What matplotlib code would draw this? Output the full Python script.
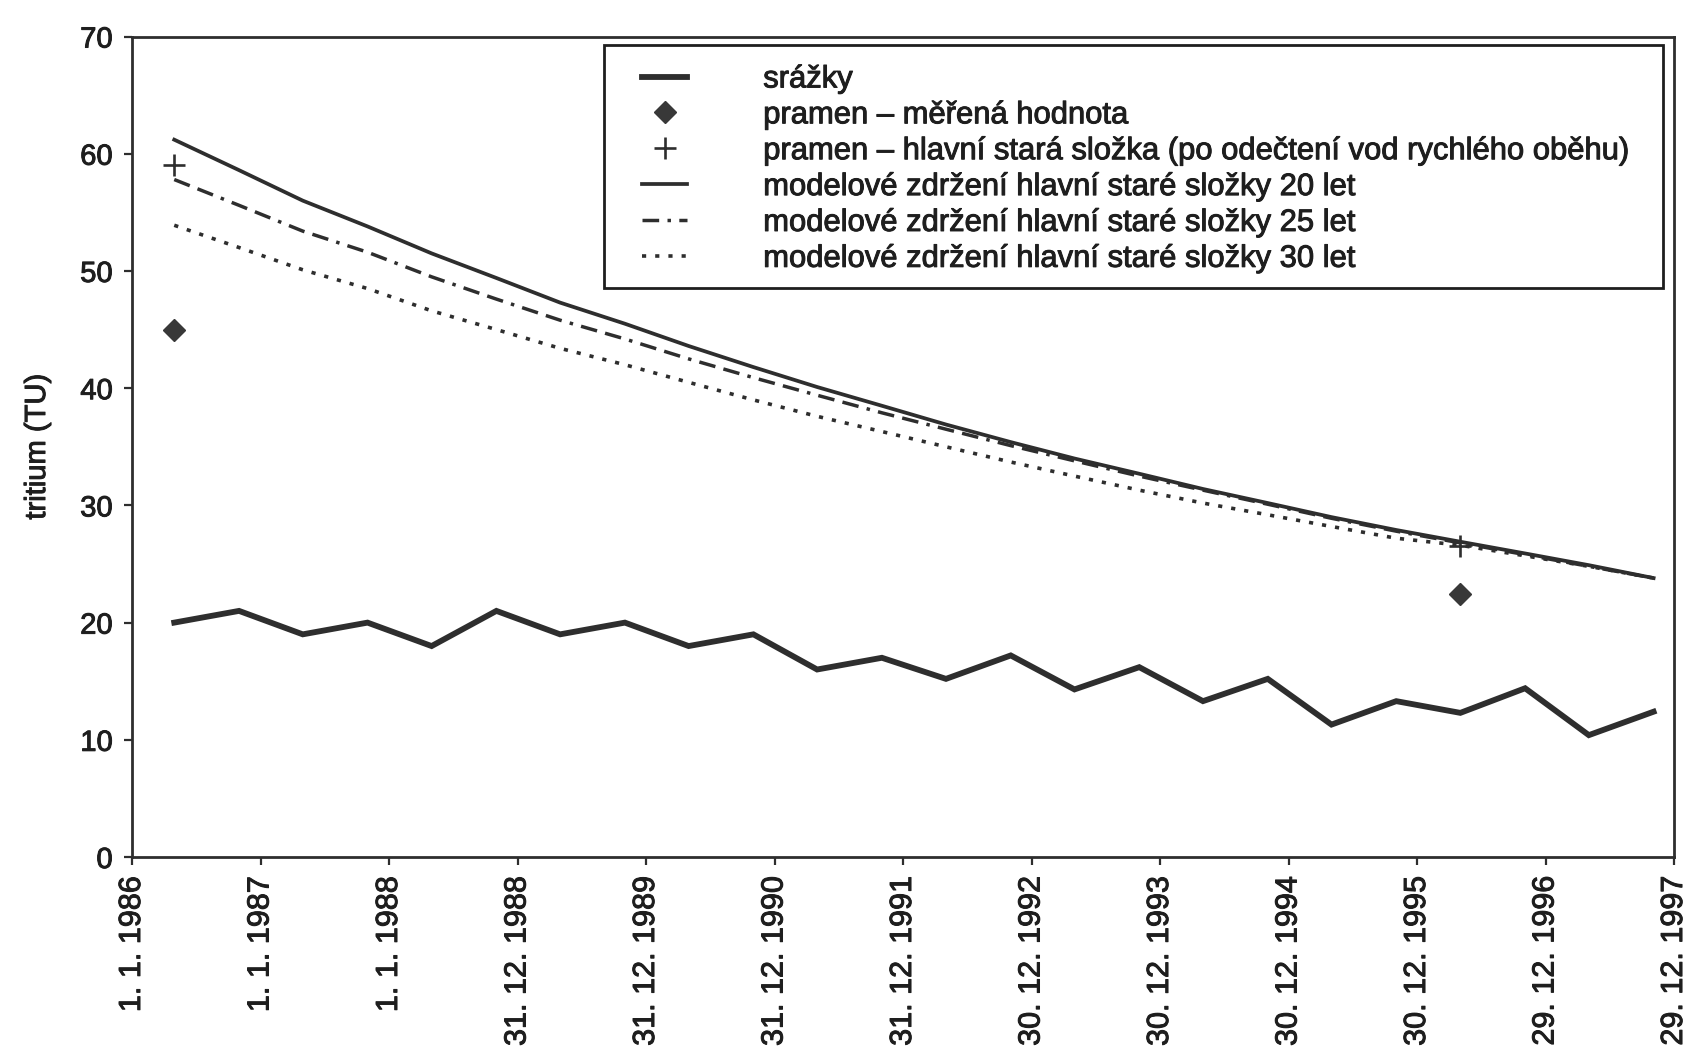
"""
Tritium in precipitation and in the spring, with model curves for the
old groundwater component (20, 25 and 30 years mean residence time).
"""
import datetime as dt
import matplotlib
matplotlib.use("Agg")
import matplotlib.pyplot as plt
import matplotlib.dates as mdates
import matplotlib.patheffects as pe
from matplotlib.lines import Line2D
from matplotlib.patches import Rectangle

plt.rcParams['font.family'] = ['Liberation Sans', 'DejaVu Sans']
plt.rcParams['lines.scale_dashes'] = False

# half-year samples (1 May, 1 Nov) of each year
years = list(range(1986, 1998))
sample_months = [5, 11]

srazky = [20.0, 21.0, 19.0, 20.0, 18.0, 21.0, 19.0, 20.0, 18.0, 19.0, 16.0, 17.0,
          15.2, 17.2, 14.3, 16.2, 13.3, 15.2, 11.3, 13.3, 12.3, 14.4, 10.4, 12.4]

model_20 = [61.2, 58.6, 56.0, 53.8, 51.5, 49.4, 47.3, 45.5, 43.6, 41.8, 40.1, 38.5,
            36.9, 35.4, 34.0, 32.7, 31.4, 30.2, 29.0, 27.9, 26.9, 25.9, 24.9, 23.8]
model_25 = [57.8, 55.6, 53.4, 51.6, 49.5, 47.6, 45.8, 44.2, 42.5, 40.9, 39.4, 37.9,
            36.5, 35.1, 33.8, 32.5, 31.3, 30.1, 28.9, 27.8, 26.8, 25.8, 24.8, 23.8]
model_30 = [53.9, 52.0, 50.1, 48.5, 46.6, 45.0, 43.4, 42.0, 40.5, 39.0, 37.6, 36.3,
            35.0, 33.7, 32.5, 31.3, 30.2, 29.2, 28.2, 27.2, 26.6, 25.7, 24.8, 23.8]

# spring samples
spring_dates = [dt.date(1986, 5, 1), dt.date(1996, 5, 1)]
pramen_mereno = [45.0, 22.4]
pramen_stara = [59.0, 26.5]

labels = [
    "srážky",
    "pramen – měřená hodnota",
    "pramen – hlavní stará složka (po odečtení vod rychlého oběhu)",
    "modelové zdržení hlavní staré složky 20 let",
    "modelové zdržení hlavní staré složky 25 let",
    "modelové zdržení hlavní staré složky 30 let",
]

dates = [dt.date(y, m, 1) for y in years for m in sample_months]
tick_dates = [dt.date(1986, 1, 1) + dt.timedelta(days=365 * k) for k in range(13)]

ink = '#2e2e2e'
txt = '#1e1e1e'
heavy = [pe.withStroke(linewidth=0.7, foreground=txt)]

fig = plt.figure(figsize=(16.86, 10.59), dpi=100)
ax = fig.add_axes([0.0783, 0.1907, 0.9146, 0.7748])

ax.plot(dates, model_30, color=ink, lw=2.6, dashes=(3, 6.5))
ax.plot(dates, model_25, color=ink, lw=2.5, dashes=(12, 6, 12, 6, 2.5, 6))
ax.plot(dates, model_20, color=ink, lw=2.7)
ax.plot(dates, srazky, color=ink, lw=4.2, solid_joinstyle='miter')
ax.plot(spring_dates, pramen_mereno, ls='none', marker='D', ms=11, color='#383838')
ax.plot(spring_dates, pramen_stara, ls='none', marker='+', ms=16, mew=1.9, color=ink)

ax.set_xlim(mdates.date2num(dt.date(1986, 1, 1)), mdates.date2num(dt.date(1997, 12, 29)))
ax.set_ylim(0, 70)
ax.set_yticks(range(0, 71, 10))
ax.set_xticks(tick_dates)
ax.set_xticklabels([f"{d.day}. {d.month}. {d.year}" for d in tick_dates], rotation=90)

ax.tick_params(axis='both', direction='out', length=6, width=1.6, color=ink,
               labelcolor=txt)
ax.tick_params(axis='y', pad=8, labelsize=21)
ax.tick_params(axis='x', pad=8, labelsize=22)
for sp in ax.spines.values():
    sp.set_linewidth(2.0)
    sp.set_color(ink)
for t in ax.get_xticklabels() + ax.get_yticklabels():
    t.set_path_effects(heavy)

ylab = ax.set_ylabel("tritium (TU)", fontsize=21, color=txt, labelpad=21)
ylab.set_path_effects(heavy)

# legend box and entries
ax.add_patch(Rectangle((0.306, 0.693), 0.687, 0.297, transform=ax.transAxes,
                       fill=True, facecolor='white', edgecolor=txt, lw=2.0, zorder=4))
handles = [
    Line2D([], [], color=ink, lw=4.2),
    Line2D([], [], ls='none', marker='D', ms=11, color='#383838'),
    Line2D([], [], ls='none', marker='+', ms=16, mew=1.9, color=ink),
    Line2D([], [], color=ink, lw=2.7),
    Line2D([], [], color=ink, lw=2.5, dashes=(12, 6, 2.5, 6)),
    Line2D([], [], color=ink, lw=2.6, dashes=(3, 6.5)),
]
leg = ax.legend(handles, labels, loc='upper left', bbox_to_anchor=(0.331, 0.966),
                frameon=False, fontsize=22.3, handlelength=1.45, handletextpad=2.45,
                labelspacing=0.19, borderpad=0, borderaxespad=0)
leg.set_zorder(5)
for t in leg.get_texts():
    t.set_color(txt)
    t.set_path_effects(heavy)

fig.savefig("out.png", dpi=100)
